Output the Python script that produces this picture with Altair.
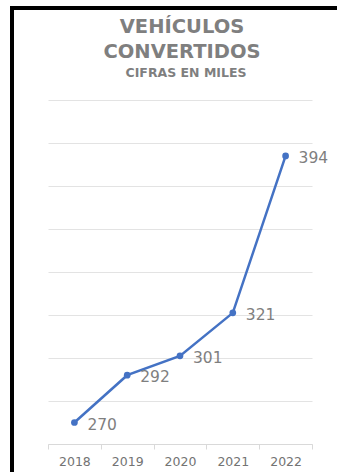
import altair as alt
import pandas as pd

years = ["2018", "2019", "2020", "2021", "2022"]
values = [270, 292, 301, 321, 394]
grid_ticks = [260, 280, 300, 320, 340, 360, 380, 400, 420]
title_lines = ["VEHÍCULOS", "CONVERTIDOS"]
subtitle = "CIFRAS EN MILES"

df = pd.DataFrame({"year": years, "value": values})

BLUE = "#4472C4"
GREY = "#7f7f7f"

x = alt.X("year:N", bandPosition=0.5,
          scale=alt.Scale(type="band", paddingInner=0, paddingOuter=0),
          axis=alt.Axis(title=None, tickBand="extent", grid=False, labelAngle=0,
                        domainColor="#d9d9d9", tickColor="#d9d9d9", tickSize=5,
                        labelColor="#737373", labelFont="DejaVu Sans", labelFontSize=12.5,
                        labelPadding=6, domain=True))
y = alt.Y("value:Q", scale=alt.Scale(domain=[260, 420], nice=False, zero=False),
          axis=alt.Axis(title=None, values=grid_ticks, labels=False, ticks=False,
                        domain=False, grid=True, gridColor="#e3e3e3", gridWidth=1))

base = alt.Chart(df)
line = base.mark_line(color=BLUE, strokeWidth=2.5).encode(x=x, y=y)
pts = base.mark_circle(color=BLUE, size=45, opacity=1).encode(x=x, y=y)
labels = base.mark_text(align="left", baseline="middle", dx=13, dy=2,
                        font="DejaVu Sans", fontSize=15.5, color=GREY).encode(
    x=x, y=y, text="value:Q")

tdf = pd.DataFrame({"t": [title_lines[0]]})
tstyle = dict(font="DejaVu Sans", fontWeight="bold", color=GREY,
              baseline="alphabetic", align="center")
t1 = alt.Chart(tdf).mark_text(fontSize=19.5, **tstyle).encode(
    text=alt.value(title_lines[0]), x=alt.value(134), y=alt.value(-67))
t2 = alt.Chart(tdf).mark_text(fontSize=19.5, **tstyle).encode(
    text=alt.value(title_lines[1]), x=alt.value(134), y=alt.value(-42))
t3 = alt.Chart(tdf).mark_text(fontSize=12.5, **tstyle).encode(
    text=alt.value(subtitle), x=alt.value(138), y=alt.value(-23))

border_top = alt.Chart(tdf).mark_rule(color="black", strokeWidth=4).encode(
    x=alt.value(-38), x2=alt.value(300), y=alt.value(-92))
border_left = alt.Chart(tdf).mark_rule(color="black", strokeWidth=4).encode(
    x=alt.value(-36), y=alt.value(-94), y2=alt.value(380))

chart = alt.layer(line, pts, labels, t1, t2, t3, border_top, border_left).properties(
    width=264, height=344, background="white",
    padding={"left": 48, "top": 100, "right": 25, "bottom": 28},
    autosize=alt.AutoSizeParams(type="none"),
).configure_view(strokeWidth=0, stroke="transparent")

chart.save("out.html", embed_options={"renderer": "svg", "actions": False})
